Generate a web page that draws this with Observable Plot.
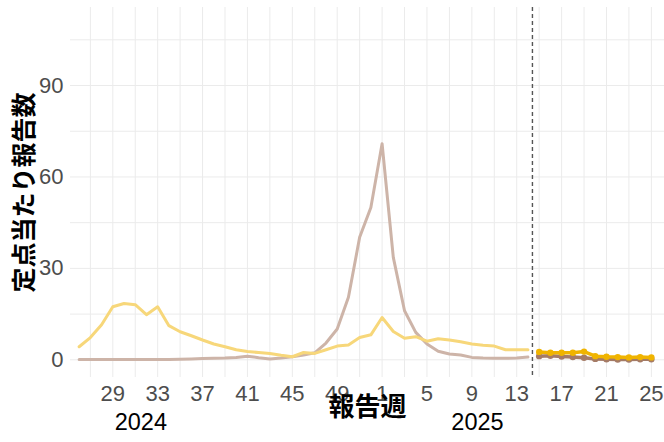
<!DOCTYPE html>
<html>
<head>
<meta charset="utf-8">
<script src="https://cdn.jsdelivr.net/npm/d3@7"></script>
<script src="https://cdn.jsdelivr.net/npm/@observablehq/plot@0.6"></script>
<style>
  html, body { margin: 0; padding: 0; background: #fff; }
  #chart { width: 664px; height: 442px; }
</style>
</head>
<body>
<div id="chart"></div>
<script>
// Week index: 2024 weeks 26..52 -> 26..52, 2025 week n -> 52 + n
const pastWeeks = [26,27,28,29,30,31,32,33,34,35,36,37,38,39,40,41,42,43,44,45,46,47,48,49,50,51,52,53,54,55,56,57,58,59,60,61,62,63,64,65,66];
const pastYellow = [4.3,7.3,11.5,17.4,18.5,18.1,14.8,17.4,11.2,9.2,7.9,6.5,5.2,4.3,3.3,2.7,2.4,2.1,1.5,1.0,2.4,2.1,3.3,4.5,4.9,7.3,8.2,13.9,9.3,7.1,7.6,6.1,6.9,6.5,5.9,5.2,4.8,4.5,3.3,3.3,3.3];
const pastBrown = [0.1,0.1,0.1,0.1,0.1,0.1,0.1,0.1,0.1,0.2,0.3,0.4,0.5,0.6,0.8,1.2,0.7,0.3,0.6,1.0,1.6,2.3,5.5,10.1,20.5,40.2,50.0,70.9,33.6,16.1,9.0,5.2,2.8,1.9,1.6,0.8,0.6,0.5,0.5,0.6,0.9];
const currentWeeks = [67,68,69,70,71,72,73,74,75,76,77];
const currentYellow = [2.6,2.3,2.3,2.3,2.7,1.2,1.0,0.9,0.8,0.9,0.8];
const currentBrown = [1.2,1.3,1.1,0.9,0.7,0.3,0.2,0.1,0.1,0.2,0.2];
const xTicks = [29,33,37,41,45,49,53,57,61,65,69,73,77];
const xGrid = [27,29,31,33,35,37,39,41,43,45,47,49,51,53,55,57,59,61,63,65,67,69,71,73,75,77];
const yTicks = [0,30,60,90];
const yGrid = [0,15,30,45,60,75,90,105];
const cutoffWeek = [66.4];
const yearLabels = [{t: 31.5, label: "2024"}, {t: 61.5, label: "2025"}];
const xTitle = "報告週";
const yTitle = "定点当たり報告数";

const past = pastWeeks.map((t, i) => ({t, yellow: pastYellow[i], brown: pastBrown[i]}));
const current = currentWeeks.map((t, i) => ({t, yellow: currentYellow[i], brown: currentBrown[i]}));

const cjk = "'Noto Sans CJK JP', sans-serif";

const chart = Plot.plot({
  width: 664,
  height: 442,
  marginLeft: 70,
  marginRight: 0,
  marginTop: 7,
  marginBottom: 65,
  style: {fontFamily: "'Liberation Sans', Arial, sans-serif", background: "#fff"},
  x: {domain: [25.23, 78.17]},
  y: {domain: [-5.8, 115.6]},
  marks: [
    Plot.gridX(xGrid, {stroke: "#ebebeb", strokeOpacity: 1, strokeWidth: 1}),
    Plot.gridY(yGrid, {stroke: "#ebebeb", strokeOpacity: 1, strokeWidth: 1}),
    Plot.axisY(yTicks, {tickSize: 0, tickPadding: 7, fontSize: 22, fill: "#4d4d4d", label: null}),
    Plot.axisX(xTicks, {tickSize: 0, tickPadding: 8, fontSize: 22, fill: "#4d4d4d", label: null,
      tickFormat: d => d > 52 ? String(d - 52) : String(d)}),
    Plot.line(past, {x: "t", y: "brown", stroke: "#cdb4a8", strokeWidth: 3}),
    Plot.line(past, {x: "t", y: "yellow", stroke: "#f7d77a", strokeWidth: 3}),
    Plot.ruleX(cutoffWeek, {stroke: "#555", strokeWidth: 1.4, strokeDasharray: "4,3"}),
    Plot.line(current, {x: "t", y: "brown", stroke: "#a57b66", strokeWidth: 3.5}),
    Plot.dot(current, {x: "t", y: "brown", fill: "#a57b66", r: 3.2}),
    Plot.line(current, {x: "t", y: "yellow", stroke: "#f0b400", strokeWidth: 3.5}),
    Plot.dot(current, {x: "t", y: "yellow", fill: "#f0b400", r: 3.2}),
    Plot.text(yearLabels, {x: "t", text: "label", frameAnchor: "bottom", dy: 52, fontSize: 23.5, fill: "#000"}),
    Plot.text([xTitle], {text: d => d, frameAnchor: "bottom", dy: 38, fontSize: 26, fontWeight: "bold", fontFamily: cjk, fill: "#000"}),
    Plot.text([yTitle], {text: d => d, frameAnchor: "left", dx: -46, rotate: -90, textAnchor: "middle", fontSize: 25, fontWeight: "bold", fontFamily: cjk, fill: "#000"})
  ]
});
document.getElementById("chart").appendChild(chart);
</script>
</body>
</html>
